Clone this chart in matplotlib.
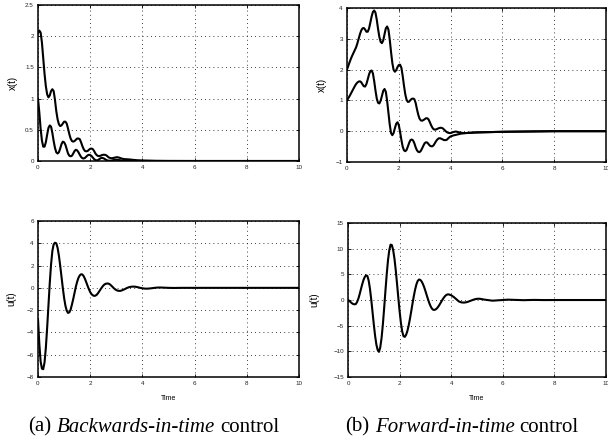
import numpy as np
import matplotlib
matplotlib.use("Agg")
from matplotlib import pyplot as plt
from matplotlib.offsetbox import TextArea, HPacker, AnchoredOffsetbox

# sample times: dense 0.05 s grid for the transient, sparse tail afterwards
t_bw_x = np.concatenate([np.arange(63) * 0.05,
                         [3.2, 3.3, 3.4, 3.5, 3.6, 3.8, 4.0, 4.5, 5.0, 6.0, 8.0, 10.0]])
x1_bw = [2.05, 2.09, 2.06, 1.90, 1.65, 1.40, 1.20, 1.07, 1.02, 1.05, 1.12, 1.15, 1.12,
         0.98, 0.80, 0.67, 0.59, 0.56, 0.57, 0.60, 0.63, 0.63, 0.60, 0.52, 0.43, 0.36,
         0.32, 0.31, 0.32, 0.34, 0.36, 0.36, 0.35, 0.30, 0.24, 0.19, 0.16, 0.155, 0.16,
         0.18, 0.195, 0.20, 0.19, 0.16, 0.12, 0.095, 0.08, 0.08, 0.085, 0.095, 0.10, 0.10,
         0.095, 0.08, 0.06, 0.05, 0.045, 0.045, 0.05, 0.055, 0.06, 0.06, 0.055,
         0.04, 0.03, 0.028, 0.025, 0.02, 0.012, 0.008, 0.003, 0.001, 0, 0, 0]
x2_bw = [1.00, 0.78, 0.52, 0.33, 0.23, 0.23, 0.30, 0.42, 0.53, 0.57, 0.55, 0.45, 0.32,
         0.21, 0.14, 0.12, 0.14, 0.20, 0.27, 0.31, 0.30, 0.26, 0.19, 0.12, 0.085, 0.075,
         0.085, 0.12, 0.16, 0.18, 0.17, 0.14, 0.10, 0.065, 0.045, 0.04, 0.05, 0.07, 0.09,
         0.10, 0.095, 0.08, 0.055, 0.03, 0.015, 0.01, 0.015, 0.03, 0.045, 0.05, 0.045,
         0.035, 0.02, 0.01, 0.005, 0.004, 0.005, 0.01, 0.015, 0.018, 0.02, 0.018, 0.015,
         0.008, 0.004, 0.003, 0.003, 0.002, 0.001, 0.001, 0, 0, 0, 0, 0]

t_bw_u = np.concatenate([np.arange(65) * 0.05,
                         [3.3, 3.4, 3.5, 3.6, 3.7, 3.8, 3.9, 4.0, 4.1, 4.2, 4.3, 4.4,
                          4.5, 4.6, 4.7, 4.8, 5.0, 5.2, 5.5, 6.0, 10.0]])
u_bw = [-2.8, -5.0, -6.6, -7.25, -7.3, -6.7, -5.4, -3.6, -1.6, 0.4, 2.1, 3.3, 3.9, 4.05,
        4.0, 3.6, 2.9, 2.0, 1.0, 0.0, -0.9, -1.6, -2.05, -2.25, -2.2, -1.95, -1.5, -1.0,
        -0.45, 0.1, 0.55, 0.9, 1.12, 1.22, 1.2, 1.05, 0.8, 0.5, 0.18, -0.12, -0.38, -0.56,
        -0.67, -0.72, -0.7, -0.62, -0.48, -0.3, -0.12, 0.05, 0.2, 0.31, 0.37, 0.39, 0.38,
        0.32, 0.22, 0.1, -0.02, -0.12, -0.2, -0.25, -0.27, -0.27, -0.24,
        -0.14, -0.02, 0.07, 0.11, 0.11, 0.07, 0.01, -0.04, -0.07, -0.07, -0.05, -0.02,
        0.01, 0.03, 0.03, 0.02, 0.0, -0.01, 0.0, 0.0, 0.0]

t_fw_x = np.concatenate([np.arange(81) * 0.05,
                         [4.1, 4.2, 4.3, 4.4, 4.5, 4.6, 4.8, 5.0, 5.5, 6.0, 7.0, 8.0, 10.0]])
x1_fw = [2.00, 2.12, 2.24, 2.35, 2.45, 2.54, 2.63, 2.72, 2.85, 3.00, 3.15, 3.27, 3.34,
         3.35, 3.30, 3.23, 3.23, 3.33, 3.52, 3.72, 3.87, 3.92, 3.85, 3.62, 3.32, 3.06,
         2.90, 2.86, 2.95, 3.15, 3.34, 3.40, 3.30, 2.98, 2.58, 2.22, 1.99, 1.93, 1.98,
         2.08, 2.15, 2.16, 2.06, 1.80, 1.48, 1.20, 1.02, 0.95, 0.96, 1.01, 1.05, 1.06,
         1.04, 0.92, 0.72, 0.54, 0.41, 0.35, 0.34, 0.36, 0.39, 0.42, 0.42, 0.38, 0.29,
         0.19, 0.11, 0.06, 0.05, 0.06, 0.08, 0.10, 0.11, 0.11, 0.09, 0.05, 0.01, -0.03,
         -0.05, -0.06, -0.06,
         -0.03, -0.01, -0.03, -0.05, -0.06, -0.06, -0.05, -0.04, -0.03, -0.02, -0.01, 0, 0]
x2_fw = [1.00, 1.07, 1.14, 1.22, 1.30, 1.38, 1.46, 1.53, 1.58, 1.61, 1.62, 1.59, 1.52,
         1.46, 1.45, 1.53, 1.68, 1.84, 1.95, 1.97, 1.88, 1.63, 1.32, 1.06, 0.92, 0.90,
         0.99, 1.15, 1.31, 1.37, 1.28, 0.98, 0.60, 0.22, -0.06, -0.13, -0.06, 0.10, 0.24,
         0.29, 0.20, -0.02, -0.28, -0.50, -0.62, -0.65, -0.61, -0.50, -0.38, -0.29, -0.27,
         -0.30, -0.39, -0.52, -0.62, -0.67, -0.68, -0.64, -0.56, -0.47, -0.39, -0.36,
         -0.37, -0.42, -0.47, -0.49, -0.49, -0.45, -0.38, -0.31, -0.26, -0.23, -0.23,
         -0.25, -0.27, -0.29, -0.29, -0.28, -0.24, -0.20, -0.17,
         -0.14, -0.12, -0.10, -0.08, -0.07, -0.06, -0.05, -0.04, -0.03, -0.02, -0.01, 0, 0]

t_fw_u = np.concatenate([np.arange(79) * 0.05,
                         [4.0, 4.1, 4.2, 4.3, 4.4, 4.5, 4.6, 4.7, 4.8, 4.9, 5.0, 5.1,
                          5.3, 5.6, 5.9, 6.2, 6.5, 6.8, 7.2, 7.6, 8.0, 10.0]])
u_fw = [0.0, -0.15, -0.4, -0.62, -0.78, -0.84, -0.8, -0.4, 0.24, 1.12, 2.1, 3.06, 3.9,
        4.5, 4.81, 4.69, 3.8, 2.21, 0.09, -2.33, -4.78, -6.99, -8.7, -9.74, -10.1, -9.21,
        -7.42, -4.8, -1.63, 1.77, 5.0, 7.76, 9.73, 10.8, 10.7, 9.72, 8.07, 5.81, 3.17,
        0.42, -2.2, -4.46, -6.12, -7.04, -7.18, -6.8, -6.06, -4.99, -3.67, -2.2, -0.69,
        0.75, 2.02, 3.03, 3.71, 3.99, 3.93, 3.64, 3.16, 2.52, 1.76, 0.95, 0.15, -0.59,
        -1.2, -1.65, -1.9, -1.93, -1.82, -1.6, -1.28, -0.89, -0.46, -0.03, 0.36, 0.7,
        0.95, 1.08, 1.1,
        0.93, 0.58, 0.15, -0.29, -0.47, -0.5, -0.42, -0.25, -0.05, 0.13, 0.24, 0.25,
        0.07, -0.13, -0.03, 0.07, 0.02, -0.03, 0.02, -0.01, 0, 0]

x_ticks = [0, 2, 4, 6, 8, 10]

plt.rcParams['font.family'] = 'Liberation Sans'
fig = plt.figure(figsize=(6.08, 4.45), dpi=100)

ax_tl = fig.add_axes([0.0625, 0.6382, 0.4293, 0.3506])
ax_tr = fig.add_axes([0.5707, 0.636, 0.426, 0.346])
ax_bl = fig.add_axes([0.0625, 0.1528, 0.4293, 0.3506])
ax_br = fig.add_axes([0.5724, 0.1528, 0.4243, 0.346])

ax_tl.plot(t_bw_x, x1_bw, 'k', lw=1.5)
ax_tl.plot(t_bw_x, x2_bw, 'k', lw=1.5)
ax_tl.set_ylim(0, 2.5)
ax_tl.set_yticks([0, 0.5, 1, 1.5, 2, 2.5])
ax_tl.set_yticklabels(['0', '0.5', '1', '1.5', '2', '2.5'])
ax_tl.set_ylabel('x(t)', fontsize=7, labelpad=5)

ax_tr.plot(t_fw_x, x1_fw, 'k', lw=1.5)
ax_tr.plot(t_fw_x, x2_fw, 'k', lw=1.5)
ax_tr.set_ylim(-1, 4)
ax_tr.set_yticks([-1, 0, 1, 2, 3, 4])
ax_tr.set_ylabel('x(t)', fontsize=7, labelpad=6)

ax_bl.plot(t_bw_u, u_bw, 'k', lw=1.5)
ax_bl.set_ylim(-8, 6)
ax_bl.set_yticks([-8, -6, -4, -2, 0, 2, 4, 6])
ax_bl.set_ylabel('u(t)', fontsize=7, labelpad=7.5)
ax_bl.set_xlabel('Time', fontsize=5, labelpad=6)

ax_br.plot(t_fw_u, u_fw, 'k', lw=1.5)
ax_br.set_ylim(-15, 15)
ax_br.set_yticks([-15, -10, -5, 0, 5, 10, 15])
ax_br.set_ylabel('u(t)', fontsize=7, labelpad=10)
ax_br.set_xlabel('Time', fontsize=5, labelpad=6)

for ax in [ax_tl, ax_tr, ax_bl, ax_br]:
    ax.set_xlim(0, 10)
    ax.set_xticks(x_ticks)
    ax.grid(True, color='k', linestyle=(0, (1, 4)), linewidth=0.6)
    ax.tick_params(direction='in', length=2.5, width=0.6, labelsize=4.5,
                   top=True, right=True, pad=3, colors='k', labelcolor='#222222')
    for s in ax.spines.values():
        s.set_linewidth(1.1)

# sub-figure captions with the italic middle part
def caption(tag, word, x, y):
    parts = [TextArea(tag, textprops=dict(family='Liberation Serif', size=15)),
             TextArea(word, textprops=dict(family='Liberation Serif', size=15, style='italic')),
             TextArea('control', textprops=dict(family='Liberation Serif', size=15))]
    box = HPacker(children=parts, align='baseline', pad=0, sep=3.8)
    anchored = AnchoredOffsetbox(loc='center', child=box, pad=0, borderpad=0, frameon=False,
                                 bbox_to_anchor=(x, y), bbox_transform=fig.transFigure)
    fig.add_artist(anchored)

caption('(a)', 'Backwards-in-time', 0.253, 0.04)
caption('(b)', 'Forward-in-time', 0.76, 0.04)

fig.savefig('out.png', dpi=100)
